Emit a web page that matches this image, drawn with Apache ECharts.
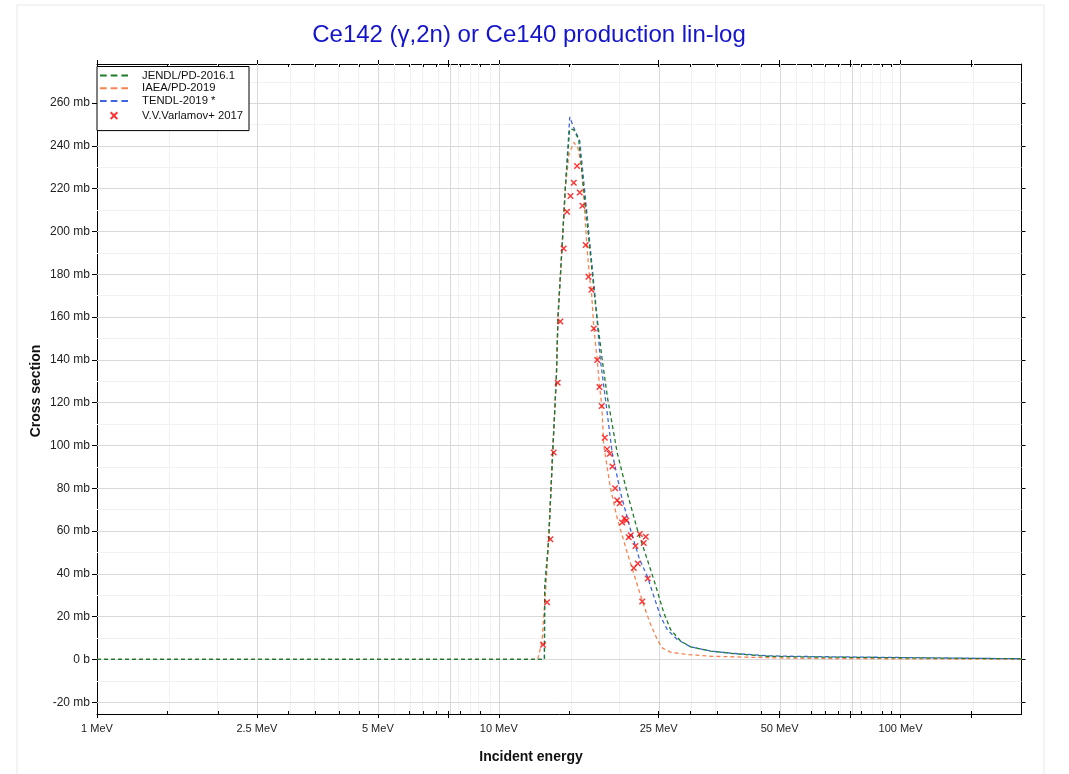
<!DOCTYPE html>
<html>
<head>
<meta charset="utf-8">
<script src="https://cdn.jsdelivr.net/npm/echarts@6/dist/echarts.min.js"></script>
<style>
html,body{margin:0;padding:0;background:#fff;}
#chart{width:1069px;height:774px;}
</style>
</head>
<body>
<div id="chart"></div>
<script>
// ---------------- data (energy in MeV, cross section in mb) ----------------
const jendlE  = [1, 12.99, 13.01, 13.31, 13.62, 13.91, 14.04, 14.37, 14.65, 15.0, 15.08, 15.37, 15.81, 17.4, 18.08, 18.67, 19.71, 20.87, 22.11, 23.41, 24.31, 25.02, 25.75, 26.76, 28.35, 30.02, 33.67, 38.48, 46.61, 56.43, 100, 200];
const jendlXS = [0, 0, 33, 56, 96.7, 132, 160, 192.6, 221, 247, 248, 247.5, 243, 166, 140.4, 121.7, 96.7, 78, 60.8, 46.8, 37.4, 29.6, 21.8, 14, 8.6, 5.9, 3.9, 2.7, 1.5, 1.2, 0.8, 0.3];

const iaeaE  = [1, 12.5, 12.82, 12.93, 13.06, 13.31, 13.62, 13.91, 14.04, 14.37, 14.65, 14.95, 15.37, 15.75, 16.05, 16.34, 16.59, 16.84, 17.01, 17.24, 17.58, 17.81, 18.04, 18.25, 18.97, 19.71, 20.87, 22.11, 22.75, 23.54, 23.86, 24.80, 25.51, 26.76, 29.45, 33.67, 42.36, 56.43, 100, 200];
const iaeaXS = [0, 0, 8.6, 19.6, 30, 56, 96.7, 132, 160, 192.6, 221, 236, 241.7, 239, 230.8, 210.6, 191.9, 178, 172, 155, 140, 128, 119, 100, 80, 66, 50, 35, 27.5, 19.5, 16.5, 9.3, 5.4, 3.4, 2.3, 1.5, 1.0, 0.5, 0.3, 0.1];

const tendlE  = [1, 12.99, 13.01, 13.31, 13.62, 13.91, 14.04, 14.37, 14.65, 15.02, 15.37, 15.9, 17.4, 17.9, 18.43, 19.15, 20.09, 21.27, 22.4, 23.41, 24.31, 25.26, 26.26, 27.81, 30.02, 33.67, 38.48, 46.61, 56.43, 100, 200];
const tendlXS = [0, 0, 33, 56, 96.7, 132, 160, 192.6, 221, 253.5, 248.5, 242.5, 168, 140, 121.7, 96.7, 78, 60.8, 46.8, 39, 29.6, 20.2, 14, 9.3, 5.9, 3.9, 2.8, 1.7, 1.4, 0.9, 0.3];

const expE  = [12.89, 13.19, 13.44, 13.70, 14.02, 14.23, 14.50, 14.79, 15.08, 15.37, 15.66, 15.90, 16.15, 16.46, 16.72, 17.01, 17.24, 17.58, 17.81, 18.04, 18.36, 18.61, 18.89, 19.18, 19.48, 19.71, 20.00, 20.28, 20.55, 20.78, 21.06, 21.30, 21.68, 21.89, 22.18, 22.44, 22.75, 22.96, 23.22, 23.49];
const expXS = [6.9, 26.7, 56.2, 96.7, 129.3, 158.0, 192.1, 209.3, 216.6, 222.8, 230.6, 218.2, 212.1, 193.7, 178.9, 172.8, 154.7, 139.9, 127.3, 118.5, 103.6, 98.3, 96.1, 90.2, 80.0, 74.4, 73.0, 64.0, 66.0, 64.9, 57.1, 58.0, 42.7, 53.0, 44.8, 58.6, 27.1, 54.4, 57.4, 37.8];

// ---------------- axis ticks / labels ----------------
const xLabelsMeV   = [1, 2.5, 5, 10, 25, 50, 100];
const xMajorTicks  = [1, 2.5, 5, 7.5, 10, 25, 50, 75, 100, 150];
const xMinorTicks  = [1.5, 2, 3, 3.5, 4, 4.5, 5.5, 6, 6.5, 7, 8, 8.5, 9, 9.5, 15, 20, 30, 35, 40, 45, 55, 60, 65, 70, 80, 85, 90, 95, 150];
const xMajorGrid   = [2.5, 5, 7.5, 10, 25, 50, 75, 100];
const yLabels      = [-20, 0, 20, 40, 60, 80, 100, 120, 140, 160, 180, 200, 220, 240, 260];
const yMinorTicks  = [-10, 10, 30, 50, 70, 90, 110, 130, 150, 170, 190, 210, 230, 250, 270];
const xMinMeV = 1, xMaxMeV = 200;
const yMin = -25.5, yMax = 278.3;

// ---------------- build ----------------
const lg = v => Math.log10(v);
const pairs = (E, S) => E.map((e, i) => [lg(e), S[i]]);
const FONT = '"Liberation Sans", Arial, sans-serif';
const MAJ = '#d9d9d9', MIN = '#f1f1f1';

const xCommon = {type: 'value', min: lg(xMinMeV), max: lg(xMaxMeV), gridIndex: 0, splitLine: {show: false}};
const yCommon = {type: 'value', min: yMin, max: yMax, gridIndex: 0, splitLine: {show: false}};
const noLabel = {show: false};
const blackLine = {color: '#000', width: 1};

const xAxes = [
  Object.assign({}, xCommon, {position: 'bottom',
    axisLine: {show: true, onZero: false, lineStyle: blackLine},
    axisTick: {show: true, inside: false, length: 4, customValues: xMajorTicks.map(lg), lineStyle: blackLine},
    axisLabel: {show: true, customValues: xLabelsMeV.map(lg), margin: 9, fontFamily: FONT, fontSize: 11, color: '#222',
      formatter: v => parseFloat(Math.pow(10, v).toPrecision(4)) + ' MeV'}}),
  Object.assign({}, xCommon, {position: 'bottom',
    axisLine: {show: false, onZero: false},
    axisTick: {show: true, inside: true, length: 3, customValues: xMajorTicks.concat(xMinorTicks).map(lg), lineStyle: blackLine},
    axisLabel: noLabel}),
  Object.assign({}, xCommon, {position: 'top',
    axisLine: {show: true, onZero: false, lineStyle: blackLine},
    axisTick: {show: true, inside: false, length: 4, customValues: xMajorTicks.map(lg), lineStyle: blackLine},
    axisLabel: noLabel}),
  Object.assign({}, xCommon, {position: 'top',
    axisLine: {show: false, onZero: false},
    axisTick: {show: true, inside: true, length: 3, customValues: xMajorTicks.concat(xMinorTicks).map(lg), lineStyle: blackLine},
    axisLabel: noLabel})
];
const yAxes = [
  Object.assign({}, yCommon, {position: 'left',
    axisLine: {show: true, onZero: false, lineStyle: blackLine},
    axisTick: {show: true, inside: false, length: 5, customValues: yLabels, lineStyle: blackLine},
    axisLabel: {show: true, customValues: yLabels, margin: 7, fontFamily: FONT, fontSize: 12, color: '#222',
      formatter: v => v === 0 ? '0 b' : v + ' mb'}}),
  Object.assign({}, yCommon, {position: 'left',
    axisLine: {show: false, onZero: false},
    axisTick: {show: true, inside: true, length: 3, customValues: yLabels.concat(yMinorTicks), lineStyle: blackLine},
    axisLabel: noLabel}),
  Object.assign({}, yCommon, {position: 'right',
    axisLine: {show: true, onZero: false, lineStyle: blackLine},
    axisTick: {show: true, inside: false, length: 4, customValues: yLabels, lineStyle: blackLine},
    axisLabel: noLabel}),
  Object.assign({}, yCommon, {position: 'right',
    axisLine: {show: false, onZero: false},
    axisTick: {show: true, inside: true, length: 3, customValues: yLabels.concat(yMinorTicks), lineStyle: blackLine},
    axisLabel: noLabel})
];

const gridLines = [];
xMinorTicks.forEach(v => gridLines.push({xAxis: lg(v), lineStyle: {color: MIN}}));
yMinorTicks.forEach(v => gridLines.push({yAxis: v, lineStyle: {color: MIN}}));
xMajorGrid.forEach(v => gridLines.push({xAxis: lg(v), lineStyle: {color: MAJ}}));
yLabels.forEach(v => gridLines.push({yAxis: v, lineStyle: {color: MAJ}}));

const lineSeries = (name, E, S, color) => ({
  name, type: 'line', data: pairs(E, S), xAxisIndex: 0, yAxisIndex: 0,
  symbol: 'none', showSymbol: false, z: 3,
  lineStyle: {color, width: 1.3, type: [4, 3]}, itemStyle: {color}
});
const XPATH = 'path://M0,0L10,10M10,0L0,10';
const XPATH_LEG = 'path://M-2.5,-2.5M12.5,12.5M0,0L10,10M10,0L0,10';
const DASH_LEG = 'path://M0,0M28,10M0,4h6.7v2h-6.7zM10.7,4h6.7v2h-6.7zM21.4,4h6.6v2h-6.6z';

const option = {
  animation: false,
  backgroundColor: '#fff',
  grid: {left: 97, right: 47.5, top: 64, bottom: 60, containLabel: false},
  xAxis: xAxes,
  yAxis: yAxes,
  legend: {
    orient: 'vertical', left: 97, top: 66.5, z: 10,
    padding: [3.5, 6, 7.5, 3], itemGap: 1.7, itemWidth: 28, itemHeight: 10,
    borderColor: '#000', borderWidth: 1, borderRadius: 0, backgroundColor: '#fff',
    textStyle: {fontFamily: FONT, fontSize: 11.3, lineHeight: 11, color: '#111', padding: [0, 0, 0, 9]},
    data: [
      {name: 'JENDL/PD-2016.1', icon: DASH_LEG},
      {name: 'IAEA/PD-2019', icon: DASH_LEG},
      {name: 'TENDL-2019 *', icon: DASH_LEG},
      {name: 'V.V.Varlamov+ 2017', icon: XPATH_LEG}
    ]
  },
  graphic: [
    {type: 'rect', z: -10, silent: true, shape: {x: 17, y: 5, width: 1027, height: 790},
      style: {fill: 'none', stroke: '#e8e8e8', lineWidth: 1}},
    {type: 'text', x: 529, y: 35, silent: true,
      style: {text: 'Ce142 (γ,2n) or Ce140 production lin-log', font: '24px ' + FONT, fill: '#1414cc', align: 'center', verticalAlign: 'middle'}},
    {type: 'text', x: 36, y: 391, rotation: Math.PI / 2, silent: true,
      style: {text: 'Cross section', font: 'bold 14px ' + FONT, fill: '#111', align: 'center', verticalAlign: 'middle'}},
    {type: 'text', x: 531, y: 757, silent: true,
      style: {text: 'Incident energy', font: 'bold 14px ' + FONT, fill: '#111', align: 'center', verticalAlign: 'middle'}}
  ],
  series: [
    {name: '_grid', type: 'line', data: [], xAxisIndex: 0, yAxisIndex: 0, z: 1, silent: true,
      markLine: {z: 1, silent: true, symbol: ['none', 'none'], label: {show: false}, animation: false,
        lineStyle: {type: 'solid', width: 1}, emphasis: {disabled: true}, data: gridLines}},
    lineSeries('TENDL-2019 *', tendlE, tendlXS, '#3d66e0'),
    lineSeries('IAEA/PD-2019', iaeaE, iaeaXS, '#f88350'),
    lineSeries('JENDL/PD-2016.1', jendlE, jendlXS, '#1c7c28'),
    {name: 'V.V.Varlamov+ 2017', type: 'scatter', data: pairs(expE, expXS), xAxisIndex: 0, yAxisIndex: 0, z: 4,
      symbol: XPATH, symbolSize: 5.5,
      itemStyle: {color: 'none', borderColor: '#ff0000', borderWidth: 1.4}}
  ]
};

const chart = echarts.init(document.getElementById('chart'), null, {renderer: 'canvas'});
chart.setOption(option);
</script>
</body>
</html>
